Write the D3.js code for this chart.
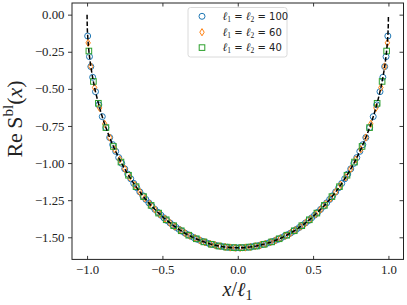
<!DOCTYPE html>
<html><head><meta charset="utf-8">
<script src="https://cdn.jsdelivr.net/npm/d3@7"></script>
<style>body{margin:0;background:#fff}svg{display:block}</style>
</head><body><svg id="c" width="407" height="305"></svg>
<script>
// ---- data ----
const xTicks = [-1, -0.5, 0, 0.5, 1];
const xTickLabels = ["\u22121.0", "\u22120.5", "0.0", "0.5", "1.0"];
const yTicks = [0, -0.25, -0.5, -0.75, -1, -1.25, -1.5];
const yTickLabels = ["0.00", "\u22120.25", "\u22120.50", "\u22120.75", "\u22121.00", "\u22121.25", "\u22121.50"];
const seriesNumbers = ["100", "60", "40"];

// continuum reference curve (dashed)
const xRef = [-1, -0.999, -0.995, -0.99, -0.98, -0.97, -0.95, -0.93, -0.9, -0.85, -0.8, -0.75, -0.7, -0.6, -0.5, -0.4, -0.3, -0.2, -0.1, 0,
  0.1, 0.2, 0.3, 0.4, 0.5, 0.6, 0.7, 0.75, 0.8, 0.85, 0.9, 0.93, 0.95, 0.97, 0.98, 0.99, 0.995, 0.999, 1];
const yRef = [0, -0.070, -0.157, -0.222, -0.313, -0.382, -0.491, -0.577, -0.685, -0.828, -0.943, -1.039, -1.122, -1.257, -1.360, -1.440, -1.499, -1.539, -1.563, -1.571,
  -1.563, -1.539, -1.499, -1.440, -1.360, -1.257, -1.122, -1.039, -0.943, -0.828, -0.685, -0.577, -0.491, -0.382, -0.313, -0.222, -0.157, -0.070, 0];

// l1 = l2 = 100
const x100 = [-0.996, -0.984, -0.975, -0.963, -0.944, -0.922, -0.899, -0.875, -0.85, -0.83, -0.81, -0.79, -0.77, -0.75, -0.73, -0.71, -0.69, -0.67, -0.65, -0.63, -0.61,
  -0.59, -0.57, -0.55, -0.53, -0.51, -0.49, -0.47, -0.45, -0.43, -0.41, -0.39, -0.37, -0.35, -0.33, -0.31, -0.29, -0.27, -0.25, -0.23, -0.21,
  -0.19, -0.17, -0.15, -0.13, -0.11, -0.09, -0.07, -0.05, -0.03, -0.01,
  0.01, 0.03, 0.05, 0.07, 0.09, 0.11, 0.13, 0.15, 0.17, 0.19, 0.21, 0.23, 0.25, 0.27, 0.29, 0.31, 0.33, 0.35, 0.37, 0.39,
  0.41, 0.43, 0.45, 0.47, 0.49, 0.51, 0.53, 0.55, 0.57, 0.59, 0.61, 0.63, 0.65, 0.67, 0.69, 0.71, 0.73, 0.75, 0.77, 0.79,
  0.81, 0.83, 0.85, 0.875, 0.899, 0.922, 0.944, 0.963, 0.975, 0.984, 0.996];
const y100 = [-0.144, -0.283, -0.350, -0.422, -0.519, -0.608, -0.687, -0.761, -0.828, -0.876, -0.921, -0.963, -1.002, -1.039, -1.074, -1.106, -1.137, -1.166, -1.194, -1.220, -1.245,
  -1.268, -1.291, -1.312, -1.332, -1.351, -1.369, -1.387, -1.403, -1.418, -1.433, -1.446, -1.459, -1.472, -1.483, -1.493, -1.503, -1.513, -1.521, -1.529, -1.536,
  -1.542, -1.548, -1.553, -1.558, -1.561, -1.564, -1.567, -1.569, -1.570, -1.571,
  -1.571, -1.570, -1.569, -1.567, -1.564, -1.561, -1.558, -1.553, -1.548, -1.542, -1.536, -1.529, -1.521, -1.513, -1.503, -1.493, -1.483, -1.472, -1.459, -1.446,
  -1.433, -1.418, -1.403, -1.387, -1.369, -1.351, -1.332, -1.312, -1.291, -1.268, -1.245, -1.220, -1.194, -1.166, -1.137, -1.106, -1.074, -1.039, -1.002, -0.963,
  -0.921, -0.876, -0.828, -0.761, -0.687, -0.608, -0.519, -0.422, -0.350, -0.283, -0.144];

// l1 = l2 = 60
const x60 = [-0.993, -0.975, -0.950, -0.917, -0.883, -0.850, -0.817, -0.783, -0.750, -0.717, -0.683, -0.650, -0.617, -0.583, -0.550, -0.517,
  -0.483, -0.450, -0.417, -0.383, -0.350, -0.317, -0.283, -0.250, -0.217, -0.183, -0.150, -0.117, -0.083, -0.050, -0.017,
  0.017, 0.050, 0.083, 0.117, 0.150, 0.183, 0.217, 0.250, 0.283, 0.317, 0.350, 0.383, 0.417, 0.450, 0.483,
  0.517, 0.550, 0.583, 0.617, 0.650, 0.683, 0.717, 0.750, 0.783, 0.817, 0.850, 0.883, 0.917, 0.950, 0.975, 0.993];
const y60 = [-0.190, -0.349, -0.491, -0.628, -0.736, -0.828, -0.907, -0.976, -1.039, -1.096, -1.147, -1.194, -1.237, -1.276, -1.312, -1.345,
  -1.375, -1.403, -1.428, -1.451, -1.472, -1.490, -1.506, -1.521, -1.534, -1.544, -1.553, -1.560, -1.565, -1.569, -1.571,
  -1.571, -1.569, -1.565, -1.560, -1.553, -1.544, -1.534, -1.521, -1.506, -1.490, -1.472, -1.451, -1.428, -1.403, -1.375,
  -1.345, -1.312, -1.276, -1.237, -1.194, -1.147, -1.096, -1.039, -0.976, -0.907, -0.828, -0.736, -0.628, -0.491, -0.349, -0.190];

// l1 = l2 = 40
const x40 = [-0.988, -0.958, -0.925, -0.875, -0.825, -0.775, -0.725, -0.675, -0.625, -0.575, -0.525, -0.475, -0.425, -0.375, -0.325, -0.275, -0.225, -0.175, -0.125, -0.075, -0.025,
  0.025, 0.075, 0.125, 0.175, 0.225, 0.275, 0.325, 0.375, 0.425, 0.475, 0.525, 0.575, 0.625, 0.675, 0.725, 0.775, 0.825, 0.875, 0.925, 0.958, 0.988];
const y40 = [-0.245, -0.450, -0.597, -0.761, -0.888, -0.993, -1.082, -1.159, -1.226, -1.285, -1.337, -1.382, -1.422, -1.456, -1.486, -1.510, -1.531, -1.547, -1.559, -1.566, -1.570,
  -1.570, -1.566, -1.559, -1.547, -1.531, -1.510, -1.486, -1.456, -1.422, -1.382, -1.337, -1.285, -1.226, -1.159, -1.082, -0.993, -0.888, -0.761, -0.597, -0.450, -0.245];

// ---- drawing ----
const svg = d3.select("#c");
const L = 72, R = 403.5, T = 3, B = 259.4;
const x = d3.scaleLinear().domain([-1.1, 1.1]).range([L, R]);
const y = d3.scaleLinear().domain([-1.649, 0.0785]).range([B, T]);
const serif = "'Liberation Serif','DejaVu Serif',serif";
const axisCol = "#222";

function zip(xs, ys) { const n = Math.min(xs.length, ys.length); const o = []; for (let i = 0; i < n; i++) o.push([xs[i], ys[i]]); return o; }

// axes
const gx = svg.append("g").attr("transform", `translate(0,${B})`)
  .call(d3.axisBottom(x).tickValues(xTicks).tickFormat((d, i) => xTickLabels[i]).tickSizeInner(-3.5).tickSizeOuter(0).tickPadding(6));
const gxt = svg.append("g").attr("transform", `translate(0,${T})`)
  .call(d3.axisTop(x).tickValues(xTicks).tickFormat("").tickSizeInner(-3.5).tickSizeOuter(0));
const gy = svg.append("g").attr("transform", `translate(${L},0)`)
  .call(d3.axisLeft(y).tickValues(yTicks).tickFormat((d, i) => yTickLabels[i]).tickSizeInner(4).tickSizeOuter(0).tickPadding(3.5));
const gyr = svg.append("g").attr("transform", `translate(${R},0)`)
  .call(d3.axisRight(y).tickValues(yTicks).tickFormat("").tickSizeInner(-4).tickSizeOuter(0));
[gx, gxt, gy, gyr].forEach(g => {
  g.select(".domain").remove();
  g.selectAll(".tick line").attr("stroke", axisCol).attr("stroke-width", 0.9);
  g.selectAll(".tick text").attr("fill", "#222").attr("font-family", serif).attr("font-size", 12.8);
});

// markers
const colors = ["#1f77b4", "#ff7f0e", "#2ca02c"];
const plot = svg.append("g");
plot.append("g").selectAll("circle").data(zip(x100, y100)).join("circle")
  .attr("cx", d => x(d[0])).attr("cy", d => y(d[1])).attr("r", 3)
  .attr("fill", "none").attr("stroke", colors[0]).attr("stroke-width", 1);
const diamond = "M0,-3.6L2.2,0L0,3.6L-2.2,0Z";
plot.append("g").selectAll("path").data(zip(x60, y60)).join("path")
  .attr("d", diamond).attr("transform", d => `translate(${x(d[0])},${y(d[1])})`)
  .attr("fill", "none").attr("stroke", colors[1]).attr("stroke-width", 1);
plot.append("g").selectAll("rect").data(zip(x40, y40)).join("rect")
  .attr("x", d => x(d[0]) - 2.8).attr("y", d => y(d[1]) - 2.8).attr("width", 5.6).attr("height", 5.6)
  .attr("fill", "none").attr("stroke", colors[2]).attr("stroke-width", 1);

// dashed reference
plot.append("path").datum(zip(xRef, yRef))
  .attr("d", d3.line().x(d => x(d[0])).y(d => y(d[1])).curve(d3.curveMonotoneX))
  .attr("fill", "none").attr("stroke", "#000").attr("stroke-width", 1.5).attr("stroke-dasharray", "4.5,2.2");

// frame
svg.append("rect").attr("x", L).attr("y", T).attr("width", R - L).attr("height", B - T)
  .attr("fill", "none").attr("stroke", axisCol).attr("stroke-width", 1);

// legend
const lg = svg.append("g");
lg.append("rect").attr("x", 188).attr("y", 7.5).attr("width", 99).attr("height", 49.5).attr("rx", 2.5)
  .attr("fill", "#fff").attr("fill-opacity", 0.85).attr("stroke", "#d6d6d6").attr("stroke-width", 0.9);
const rowsY = [16.3, 32.2, 47.6];
lg.append("circle").attr("cx", 202).attr("cy", rowsY[0]).attr("r", 3).attr("fill", "none").attr("stroke", colors[0]).attr("stroke-width", 1);
lg.append("path").attr("d", diamond).attr("transform", `translate(202,${rowsY[1]})`).attr("fill", "none").attr("stroke", colors[1]).attr("stroke-width", 1);
lg.append("rect").attr("x", 199.2).attr("y", rowsY[2] - 2.8).attr("width", 5.6).attr("height", 5.6).attr("fill", "none").attr("stroke", colors[2]).attr("stroke-width", 1);
seriesNumbers.forEach((num, i) => {
  const t = lg.append("text").attr("x", 222.5).attr("y", rowsY[i] + 3.6)
    .attr("font-family", "'DejaVu Sans',sans-serif").attr("font-size", 10).attr("fill", "#222");
  t.append("tspan").attr("font-family", serif).attr("font-style", "italic").attr("font-size", 11.5).text("\u2113");
  t.append("tspan").attr("font-size", 7.5).attr("dy", 2).attr("font-family", serif).text("1");
  t.append("tspan").attr("dy", -2).text(" = ");
  t.append("tspan").attr("font-family", serif).attr("font-style", "italic").attr("font-size", 11.5).text("\u2113");
  t.append("tspan").attr("font-size", 7.5).attr("dy", 2).attr("font-family", serif).text("2");
  t.append("tspan").attr("dy", -2).text(" = " + num);
});

// x label
const xl = svg.append("text").attr("x", 237.5).attr("y", 296).attr("text-anchor", "middle")
  .attr("font-family", serif).attr("font-size", 20).attr("fill", "#222");
xl.append("tspan").attr("font-style", "italic").text("x");
xl.append("tspan").text("/");
xl.append("tspan").attr("font-style", "italic").text("\u2113");
xl.append("tspan").attr("font-size", 14).attr("dy", 4).text("1");

// y label
const yl = svg.append("text").attr("transform", `translate(22,119) rotate(-90)`).attr("text-anchor", "middle")
  .attr("font-family", serif).attr("font-size", 22).attr("fill", "#222");
yl.append("tspan").text("Re\u2009S");
yl.append("tspan").attr("font-size", 15).attr("dy", -9).text("bl");
yl.append("tspan").attr("dy", 9).text("(");
yl.append("tspan").attr("font-style", "italic").text("x");
yl.append("tspan").text(")");
</script></body></html>
